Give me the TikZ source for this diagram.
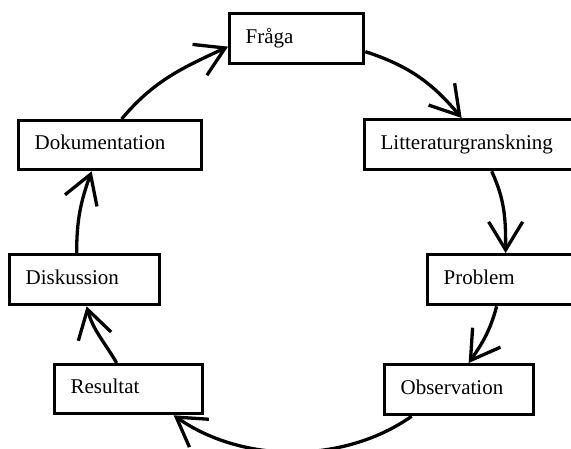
\documentclass[tikz,border=0pt]{standalone}
\usepackage{fontspec}
\setmainfont{Liberation Serif}
\usetikzlibrary{arrows.meta}
\begin{document}
\begin{tikzpicture}[x=1pt,y=1pt,
  box/.style={draw, line width=3.3pt, rectangle, anchor=north west, inner xsep=16pt, inner ysep=0pt,
    minimum height=50pt, align=left, text height=15pt, text depth=6pt, font=\fontsize{21}{25}\selectfont},
  conn/.style={line width=3.3pt, -{Straight Barb[length=28pt,width=34pt]}}]
\useasboundingbox (0,0) rectangle (571,-449);
\node[box, text width=102pt] (fraga) at (228,-12) {Fråga};
\node[box, text width=180pt] (lit) at (363,-118) {Litteraturgranskning};
\node[box, text width=118pt] (prob) at (426,-253) {Problem};
\node[box, text width=117pt] (obs) at (383,-363) {Observation};
\node[box, text width=116pt, minimum height=49pt] (res) at (53,-363) {Resultat};
\node[box, text width=118pt] (disk) at (8,-253) {Diskussion};
\node[box, text width=151pt, minimum height=49pt] (dok) at (17,-119) {Dokumentation};

\draw[conn] ([xshift=11.5pt]dok.north) to[out=50,in=205] ([yshift=-8pt]fraga.west);
\draw[conn] ([yshift=-13pt]fraga.east) to[out=-18,in=130] ([xshift=-9pt]lit.north);
\draw[conn] ([xshift=21pt]lit.south) to[out=-65,in=90] ([xshift=3pt]prob.north);
\draw[conn] ([xshift=-6pt]prob.south) to[out=-105,in=55] ([xshift=9.5pt]obs.north);
\draw[conn] ([xshift=-47.5pt]obs.south) to[out=-145,in=-35,looseness=0.9] ([xshift=45pt]res.south);
\draw[conn] ([xshift=-12pt]res.north) to[out=120,in=-75] ([xshift=2pt]disk.south);
\draw[conn] ([xshift=-8pt]disk.north) to[out=90,in=-110] ([xshift=-18.5pt]dok.south);
\end{tikzpicture}
\end{document}
